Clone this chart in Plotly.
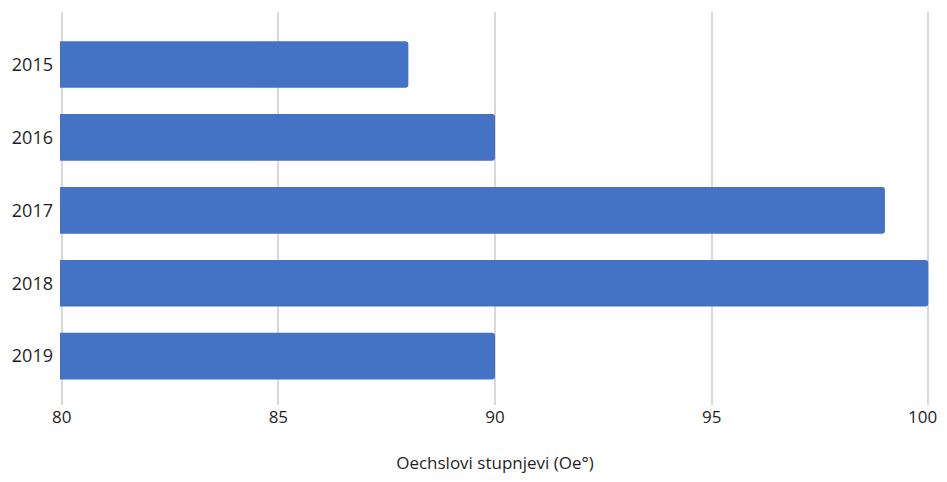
import plotly.graph_objects as go

years = ["2015", "2016", "2017", "2018", "2019"]
values = [88, 90, 99, 100, 90]
x_ticks = [80, 85, 90, 95, 100]

fig = go.Figure(go.Bar(
    x=values, y=years, orientation="h",
    marker=dict(color="#4472C4", cornerradius=3, line=dict(width=0)),
    width=0.64,
))

# the last tick label sits at the right page edge; draw it as a right-anchored
# annotation so it is not clipped
tick_text = [str(v) for v in x_ticks[:-1]] + [""]
fig.add_annotation(
    x=x_ticks[-1], xref="x", y=0, yref="paper", yanchor="top", xanchor="right",
    text=str(x_ticks[-1]), showarrow=False, xshift=11, yshift=2,
    font=dict(size=17, color="#1f1f1f"),
)

# page body has 8px margin; compensate so the plot sits like the reference
fig.update_layout(
    width=939, height=466,
    margin=dict(l=52, r=17, t=4, b=69, autoexpand=False),
    paper_bgcolor="white", plot_bgcolor="white",
    font=dict(family="Open Sans", size=17, color="#1f1f1f"),
    showlegend=False,
)
fig.update_xaxes(
    range=[79.96, 100.04], tickvals=x_ticks, ticktext=tick_text,
    showgrid=True, gridcolor="#d9d9d9", gridwidth=2,
    zeroline=False, showline=False, ticks="", automargin=False,
    tickfont=dict(size=17),
    title=dict(text="Oechslovi stupnjevi (Oe°)", font=dict(size=17), standoff=38),
)
fig.update_yaxes(
    type="category", categoryorder="array", categoryarray=years,
    range=[4.67, -0.72], showgrid=False, zeroline=False, showline=False, ticks="",
    ticklabelstandoff=6, automargin=False, tickfont=dict(size=18),
)
fig.write_html("out.html")
